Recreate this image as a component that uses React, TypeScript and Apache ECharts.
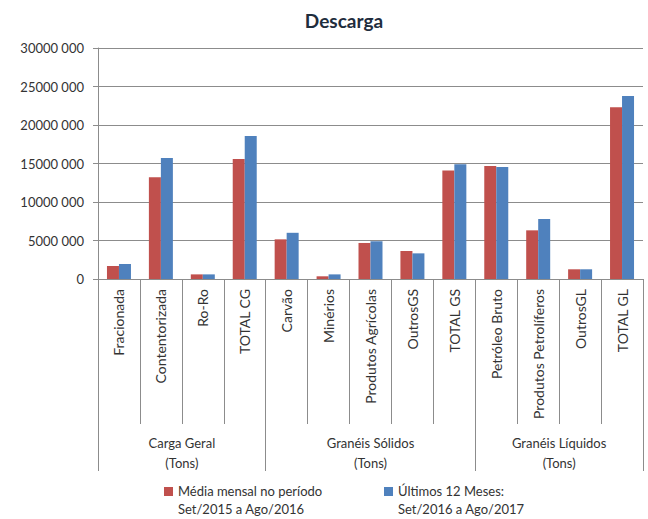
import React, { useEffect, useRef } from "react";
import * as echarts from "echarts";

const categories = [
  "Fracionada", "Contentorizada", "Ro-Ro", "TOTAL CG",
  "Carvão", "Minérios", "Produtos Agrícolas", "OutrosGS", "TOTAL GS",
  "Petróleo Bruto", "Produtos Petrolíferos", "OutrosGL", "TOTAL GL",
];
const mediaMensal = [
  1690000, 13200000, 600000, 15580000,
  5150000, 350000, 4680000, 3640000, 14100000,
  14670000, 6320000, 1260000, 22300000,
];
const ultimos12 = [
  1950000, 15700000, 600000, 18570000,
  6000000, 600000, 4900000, 3330000, 14900000,
  14550000, 7790000, 1260000, 23770000,
];
const groupLabels = ["Carga Geral\n(Tons)", "Granéis Sólidos\n(Tons)", "Granéis Líquidos\n(Tons)"];
const groupBounds = [0, 4, 9, 13];
const groupCenters = [2, 6.5, 11];
const seriesNames = [
  "Média mensal no período\nSet/2015 a Ago/2016",
  "Últimos 12 Meses:\nSet/2016 a Ago/2017",
];
const yTicks = { min: 0, max: 30000000, interval: 5000000 };

const FONT = "Lato";
const legendIcon = "path://M0,0 L9,0 L9,9 L0,9 Z M0,25.9 L0.01,25.9 L0.01,26 L0,26 Z";

export default function App() {
  const ref = useRef<HTMLDivElement>(null);
  useEffect(() => {
    document.body.style.margin = "0";
    const chart = echarts.init(ref.current!, null, { renderer: "svg" });
    const legendBase = {
      top: 482,
      padding: 0,
      icon: legendIcon,
      itemWidth: 9,
      itemHeight: 26,
      itemGap: 5,
      textStyle: { fontFamily: FONT, fontSize: 13, color: "#333", lineHeight: 18 },
    };
    chart.setOption({
      animation: false,
      textStyle: { fontFamily: FONT },
      title: {
        text: "Descarga",
        left: 339,
        top: 6,
        textAlign: "center",
        textStyle: { fontFamily: FONT, fontSize: 19, fontWeight: "bold", color: "#1f2d3d" },
      },
      grid: { left: 98, right: 5, top: 48, bottom: 240, containLabel: false },
      legend: [
        { ...legendBase, data: [seriesNames[0]], left: 164 },
        { ...legendBase, data: [seriesNames[1]], left: 384 },
      ],
      xAxis: [
        {
          type: "category",
          data: categories,
          axisLine: { lineStyle: { color: "#8c8c8c" } },
          axisTick: { show: true, interval: 0, length: 145, lineStyle: { color: "#8c8c8c" } },
          axisLabel: {
            interval: 0,
            rotate: 90,
            margin: 10,
            fontFamily: FONT,
            fontSize: 14,
            color: "#333",
          },
        },
        {
          type: "value",
          position: "bottom",
          min: 0,
          max: 13,
          axisLine: { show: false },
          splitLine: { show: false },
          axisTick: {
            show: true,
            length: 192,
            customValues: groupBounds,
            lineStyle: { color: "#8c8c8c" },
          },
          axisLabel: {
            customValues: groupCenters,
            margin: 154,
            fontFamily: FONT,
            fontSize: 13,
            lineHeight: 20,
            color: "#333",
            formatter: (v: number) => groupLabels[groupCenters.indexOf(v)] ?? "",
          },
        },
      ],
      yAxis: {
        type: "value",
        min: yTicks.min,
        max: yTicks.max,
        interval: yTicks.interval,
        axisLine: { show: true, lineStyle: { color: "#8c8c8c" } },
        axisTick: { show: true, length: 5, lineStyle: { color: "#8c8c8c" } },
        splitLine: { lineStyle: { color: "#8c8c8c" } },
        axisLabel: {
          margin: 14,
          fontFamily: FONT,
          fontSize: 13,
          color: "#333",
          formatter: (v: number) => (v === 0 ? "0" : `${v / 1000} 000`),
        },
      },
      series: [
        {
          name: seriesNames[0],
          type: "bar",
          data: mediaMensal,
          barWidth: 12,
          barGap: "0%",
          itemStyle: { color: "#C0504D" },
        },
        {
          name: seriesNames[1],
          type: "bar",
          data: ultimos12,
          barWidth: 12,
          barGap: "0%",
          itemStyle: { color: "#4F81BD" },
        },
      ],
    });
    return () => chart.dispose();
  }, []);
  return <div ref={ref} style={{ width: 648, height: 519 }} />;
}
